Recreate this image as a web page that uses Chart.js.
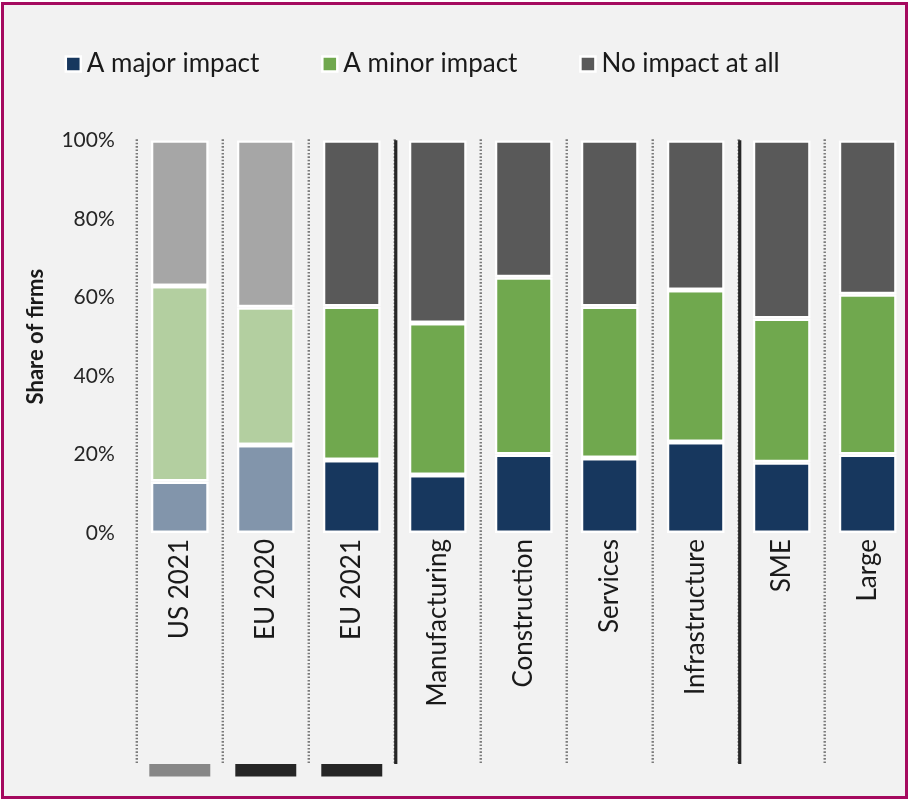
<!DOCTYPE html>
<html><head><meta charset="utf-8">
<script src="https://cdn.jsdelivr.net/npm/chart.js@4.4.1/dist/chart.umd.min.js"></script>
<style>
html,body{margin:0;padding:0;background:#ffffff;overflow:hidden;width:912px;height:800px;}
#frame{position:absolute;left:1px;top:2px;width:901px;height:791px;border:3px solid #a50a5f;background:#f2f2f2;}
#wrap{position:absolute;left:0;top:-19px;width:912px;height:819px;}
</style></head><body>
<div id="frame"></div>
<div id="wrap"><canvas id="c" width="912" height="819"></canvas></div>
<script>
// ---- data ----
const categories = ['US 2021','EU 2020','EU 2021','Manufacturing','Construction','Services','Infrastructure','SME','Large'];
const seriesNames = ['A major impact','A minor impact','No impact at all'];
const majorImpact = [13.1, 22.4, 18.6, 14.8, 20.0, 19.1, 23.2, 18.0, 20.0];
const minorImpact = [49.8, 35.1, 39.1, 38.7, 45.1, 38.6, 38.7, 36.6, 40.8];
const noImpact    = [37.1, 42.5, 42.3, 46.5, 34.9, 42.3, 38.1, 45.4, 39.2];
const yTicks = [0, 20, 40, 60, 80, 100];
const muted = [true, true, false, false, false, false, false, false, false];
const groupBreaks = [3, 7];
const markerColors = ['#878787', '#262626', '#262626', null, null, null, null, null, null];

// ---- styles ----
const strongColors = ['#17375e', '#70a84e', '#595959'];
const fadedColors  = ['#8295ab', '#b3cfa0', '#a6a6a6'];
const FONT = 'Lato';
const TEXT = '#1a1a1a';

const seriesValues = [majorImpact, minorImpact, noImpact];

const legendGap = {
  id: 'legendGap',
  beforeInit(chart) {
    const fit = chart.legend.fit;
    chart.legend.fit = function () { fit.call(this); this.height += 53.3; };
  }
};

const guides = {
  id: 'guides',
  afterDatasetsDraw(chart) {
    const {ctx, chartArea} = chart;
    const x = chart.scales.x;
    const n = categories.length;
    const step = (x.right - x.left) / n;
    ctx.save();
    for (let i = 0; i < n; i++) {
      const bx = x.left + i * step;
      ctx.beginPath();
      ctx.setLineDash([1.6, 1.8]);
      ctx.lineWidth = 2.4;
      ctx.strokeStyle = '#7a7a7a';
      ctx.moveTo(bx, chartArea.top - 1);
      ctx.lineTo(bx, x.bottom - 1);
      ctx.stroke();
    }
    groupBreaks.forEach(i => {
      const bx = x.left + i * step + 1;
      ctx.beginPath();
      ctx.setLineDash([]);
      ctx.lineWidth = 3.2;
      ctx.strokeStyle = '#262626';
      ctx.moveTo(bx, chartArea.top);
      ctx.lineTo(bx, x.bottom);
      ctx.stroke();
    });
    const meta = chart.getDatasetMeta(0);
    markerColors.forEach((c, i) => {
      if (!c) return;
      const cx = x.getPixelForValue(i);
      const w = meta.data[i].width + 3;
      ctx.fillStyle = c;
      ctx.fillRect(cx - w / 2, x.bottom, w, 12.5);
    });
    ctx.restore();
  }
};

new Chart(document.getElementById('c'), {
  type: 'bar',
  data: {
    labels: categories,
    datasets: seriesNames.map((name, s) => ({
      label: name,
      data: seriesValues[s],
      backgroundColor: categories.map((c, i) => muted[i] ? fadedColors[s] : strongColors[s]),
      borderColor: '#ffffff',
      borderWidth: 2.5,
      borderSkipped: false,
      categoryPercentage: 1,
      barPercentage: 0.674
    }))
  },
  options: {
    responsive: false,
    animation: false,
    devicePixelRatio: 1,
    layout: {padding: {left: 2.8, right: 1.3, top: 0, bottom: 36}},
    plugins: {
      tooltip: {enabled: false},
      legend: {
        position: 'top',
        align: 'start',
        labels: {
          usePointStyle: true,
          pointStyle: 'rect',
          boxWidth: 1,
          boxHeight: 15,
          padding: 70,
          color: TEXT,
          font: {family: FONT, size: 26},
          generateLabels: () => seriesNames.map((n, i) => ({
            text: n, fillStyle: strongColors[i], strokeStyle: '#ffffff', lineWidth: 2.5,
            pointStyle: 'rect', hidden: false, datasetIndex: i, fontColor: TEXT
          }))
        }
      }
    },
    scales: {
      x: {
        stacked: true,
        grid: {display: false, drawTicks: false},
        border: {display: false},
        ticks: {autoSkip: false, minRotation: 90, maxRotation: 90, padding: 6, color: TEXT, font: {family: FONT, size: 26}},
        afterFit(s) { s.height = 231; }
      },
      y: {
        stacked: true,
        min: 0, max: 100,
        grid: {display: false, drawTicks: false},
        border: {display: false},
        afterBuildTicks(s) { s.ticks = yTicks.map(v => ({value: v})); },
        ticks: {padding: 22, color: '#262626', font: {family: FONT, size: 21}, callback: v => v + '%'},
        title: {display: true, text: 'Share of firms', color: TEXT, font: {family: FONT, size: 22, weight: 'bold'}, padding: {top: 20, bottom: 0}},
        afterFit(s) { s.width = 134; }
      }
    }
  },
  plugins: [legendGap, guides]
});
</script>
</body></html>
